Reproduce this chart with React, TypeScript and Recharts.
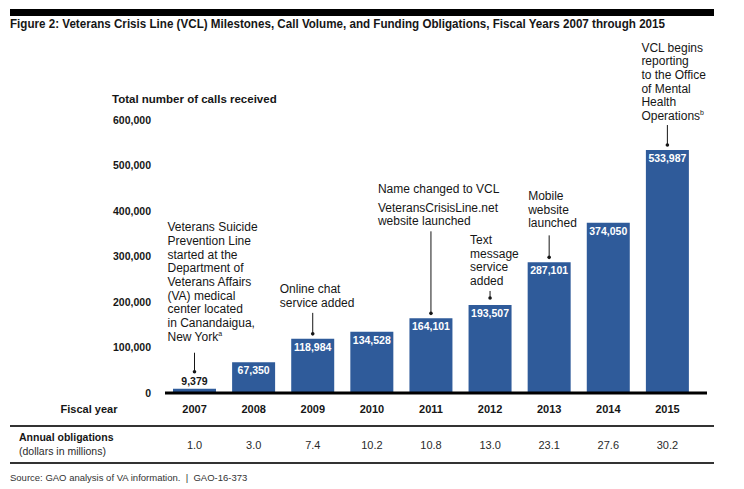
import { BarChart, Bar, XAxis, YAxis, LabelList } from 'recharts'

const years = ['2007', '2008', '2009', '2010', '2011', '2012', '2013', '2014', '2015']
const calls = [9379, 67350, 118984, 134528, 164101, 193507, 287101, 374050, 533987]
const obligations = ['1.0', '3.0', '7.4', '10.2', '10.8', '13.0', '23.1', '27.6', '30.2']
const callTicks = [0, 100000, 200000, 300000, 400000, 500000, 600000]

// milestone text per fiscal year ('^' marks a footnote letter)
const milestones: Record<string, string[]> = {
  '2007': [
    'Veterans Suicide',
    'Prevention Line',
    'started at the',
    'Department of',
    'Veterans Affairs',
    '(VA) medical',
    'center located',
    'in Canandaigua,',
    'New York^a',
  ],
  '2009': ['Online chat', 'service added'],
  '2011': ['Name changed to VCL', 'VeteransCrisisLine.net', 'website launched'],
  '2012': ['Text', 'message', 'service', 'added'],
  '2013': ['Mobile', 'website', 'launched'],
  '2015': ['VCL begins', 'reporting', 'to the Office', 'of Mental', 'Health', 'Operations^b'],
}

const data = years.map((year, i) => ({ year, calls: calls[i], obligation: obligations[i] }))

// where each milestone note sits relative to its bar
const notePlacement: Record<string, { dx: number; lead: number; gap: number; textGap: number; firstGap?: number }> = {
  '2007': { dx: -27, lead: 19, gap: 17, textGap: 12 },
  '2009': { dx: -33, lead: 21, gap: 5, textGap: 6 },
  '2011': { dx: -53, lead: 82, gap: 5, textGap: 6, firstGap: 19 },
  '2012': { dx: -20, lead: 7, gap: 7, textGap: 6 },
  '2013': { dx: -21, lead: 22, gap: 5, textGap: 8 },
  '2015': { dx: -26, lead: 20, gap: 5, textGap: 5 },
}

const FONT = '"Liberation Sans", Arial, Helvetica, sans-serif'
const BAR = '#2f5b9a'
const INK = '#161616'
const LINE_H = 13.7

function NoteLine({ x, y, text }: { x: number; y: number; text: string }) {
  const [main, sup] = text.split('^')
  return (
    <text x={x} y={y} fontSize={12} fill={INK} fontFamily={FONT}>
      {main}
      {sup && (
        <tspan fontSize={7} dy={-5}>
          {sup}
        </tspan>
      )}
    </text>
  )
}

const renderBarLabel = (props: any) => {
  const vb = props.viewBox || {}
  const x = Number(props.x ?? vb.x)
  const y = Number(props.y ?? vb.y)
  const width = Number(props.width ?? vb.width)
  const value = Number(props.value)
  const index = props.index ?? calls.indexOf(value)
  const cx = x + width / 2
  const year = years[index]
  const small = value < 30000
  const lines = milestones[year]
  const place = notePlacement[year]

  let note = null
  if (lines && place) {
    const dotY = y - place.gap
    const topY = dotY - place.lead
    const left = cx + place.dx
    const bases: number[] = []
    let b = topY - place.textGap
    for (let i = lines.length - 1; i >= 0; i--) {
      bases[i] = b
      b -= i === 1 && place.firstGap ? place.firstGap : LINE_H
    }
    note = (
      <g>
        <line x1={cx} x2={cx} y1={topY} y2={dotY} stroke={INK} strokeWidth={1} />
        <circle cx={cx} cy={dotY} r={1.8} fill={INK} />
        {lines.map((t, i) => (
          <NoteLine key={i} x={left} y={bases[i]} text={t} />
        ))}
      </g>
    )
  }

  return (
    <g>
      <text
        x={cx}
        y={small ? y - 4 : y + 12}
        textAnchor="middle"
        fontSize={10.5}
        fontWeight={700}
        fontFamily={FONT}
        fill={small ? INK : '#ffffff'}
      >
        {value.toLocaleString('en-US')}
      </text>
      {note}
    </g>
  )
}

export default function App() {
  return (
    <div style={{ position: 'relative', width: 744, height: 489, background: '#fff', fontFamily: FONT }}>
      <style>{`body{margin:0}`}</style>
      <BarChart
        width={744}
        height={489}
        data={data}
        margin={{ top: 120, right: 37, bottom: 26, left: 105 }}
      >
        <XAxis
          dataKey="year"
          padding={{ left: 0, right: 10 }}
          height={30}
          axisLine={{ stroke: '#000', strokeWidth: 3 }}
          tickLine={false}
          tickSize={0}
          tickMargin={12}
          tick={{ fontSize: 11, fontWeight: 700, fill: INK }}
        />
        <XAxis
          xAxisId="obl"
          dataKey="obligation"
          padding={{ left: 0, right: 10 }}
          height={40}
          axisLine={false}
          tickLine={false}
          tickSize={0}
          tickMargin={18}
          tick={{ fontSize: 11, fill: '#2a2a2a' }}
        />
        <YAxis
          width={60}
          domain={[0, 600000]}
          ticks={callTicks}
          axisLine={false}
          tickLine={false}
          tickSize={0}
          tickMargin={14}
          tickFormatter={(v: number) => v.toLocaleString('en-US')}
          tick={{ fontSize: 10.5, fontWeight: 700, fill: INK }}
        />
        <Bar dataKey="calls" fill={BAR} barSize={43} isAnimationActive={false}>
          <LabelList dataKey="calls" content={renderBarLabel} />
        </Bar>
      </BarChart>

      <svg
        width={744}
        height={489}
        style={{ position: 'absolute', left: 0, top: 0, pointerEvents: 'none' }}
        fontFamily={FONT}
      >
        <rect x={10} y={9} width={704} height={7} fill="#000" />
        <text x={10} y={28} fontSize={13} fontWeight={700} fill={INK} textLength={655} lengthAdjust="spacingAndGlyphs">
          Figure 2: Veterans Crisis Line (VCL) Milestones, Call Volume, and Funding Obligations, Fiscal Years 2007 through 2015
        </text>
        <text x={112} y={103} fontSize={11.5} fontWeight={700} fill={INK}>
          Total number of calls received
        </text>
        <text x={89} y={413} fontSize={11} fontWeight={700} fill={INK} textAnchor="middle">
          Fiscal year
        </text>
        <line x1={10} x2={714} y1={426} y2={426} stroke="#333" strokeWidth={2} />
        <text x={19} y={441} fontSize={10.5} fontWeight={700} fill={INK}>
          Annual obligations
        </text>
        <text x={19} y={455} fontSize={10.5} fill="#2a2a2a">
          (dollars in millions)
        </text>
        <line x1={10} x2={714} y1={463} y2={463} stroke="#333" strokeWidth={2} />
        <text x={10} y={481} fontSize={9.5} fill="#333">
          {'Source: GAO analysis of VA information.\u00a0\u00a0|\u00a0\u00a0GAO-16-373'}
        </text>
      </svg>
    </div>
  )
}
